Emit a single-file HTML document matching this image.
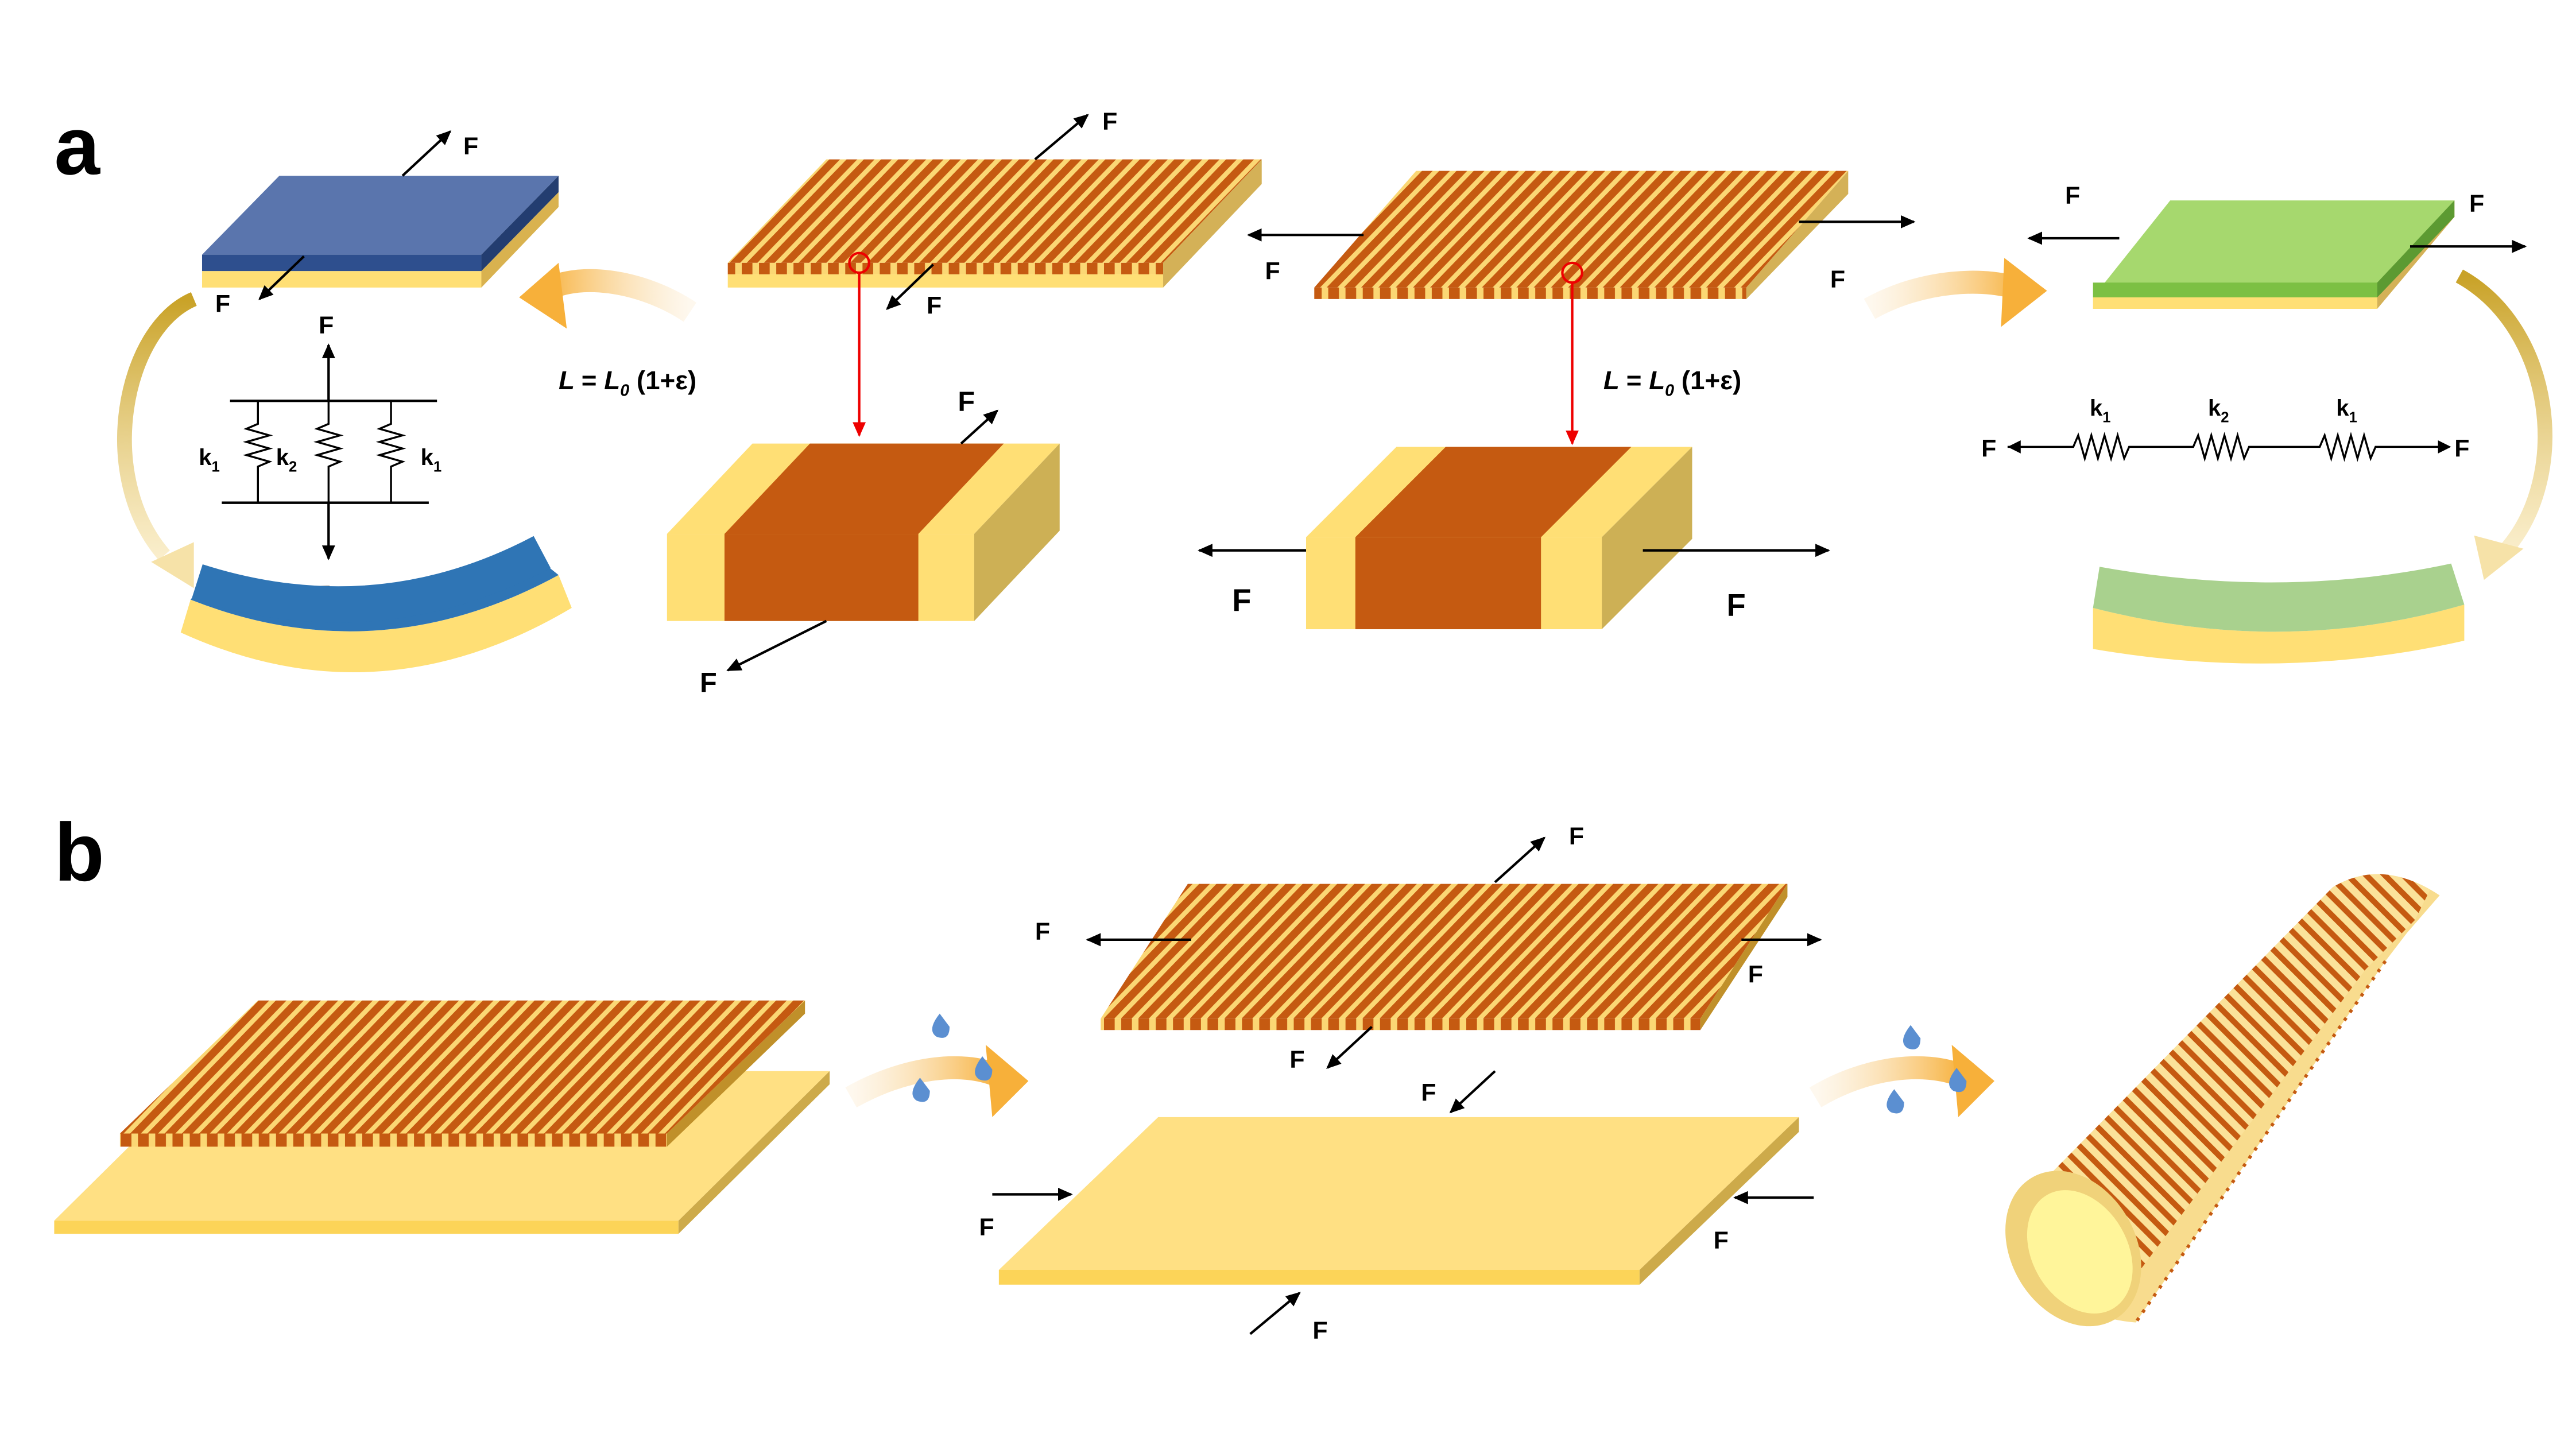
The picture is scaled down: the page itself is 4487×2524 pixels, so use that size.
<!DOCTYPE html>
<html><head><meta charset="utf-8">
<style>
html,body{margin:0;padding:0;background:#fff;}
svg{display:block;}
text{font-family:"Liberation Sans",Arial,sans-serif;font-weight:bold;fill:#000;}
</style></head>
<body>
<svg width="4487" height="2524" viewBox="0 0 1568 882" xmlns="http://www.w3.org/2000/svg">
<defs>
<marker id="ah" markerWidth="10" markerHeight="10" refX="8" refY="5" orient="auto" markerUnits="userSpaceOnUse">
<path d="M0,1 L9,5 L0,9 Z" fill="#000"/></marker>
<marker id="ahr" markerWidth="10" markerHeight="10" refX="8" refY="5" orient="auto" markerUnits="userSpaceOnUse">
<path d="M0,1 L9,5 L0,9 Z" fill="#e00"/></marker>
<pattern id="st" width="10.5" height="10" patternUnits="userSpaceOnUse" patternTransform="skewX(-44)">
<rect width="10.5" height="10" fill="#fbd774"/><rect width="6.5" height="10" fill="#c55a11"/></pattern>
<pattern id="stf" width="10.5" height="10" patternUnits="userSpaceOnUse">
<rect width="10.5" height="10" fill="#fbd774"/><rect width="6.5" height="10" fill="#c55a11"/></pattern>
<pattern id="ring" width="8" height="8" patternUnits="userSpaceOnUse" patternTransform="rotate(-45)">
<rect width="8" height="8" fill="#fbe29a"/><rect width="3.5" height="8" fill="#c55a11"/></pattern>
<linearGradient id="gl" x1="1" y1="0" x2="0" y2="0"><stop offset="0" stop-color="#fbe8c8" stop-opacity="0.3"/><stop offset="1" stop-color="#f7b03a"/></linearGradient>
<linearGradient id="gr" x1="0" y1="0" x2="1" y2="0"><stop offset="0" stop-color="#fbe8c8" stop-opacity="0.3"/><stop offset="1" stop-color="#f7b03a"/></linearGradient>
<linearGradient id="gd" x1="0" y1="0" x2="0" y2="1"><stop offset="0" stop-color="#c9a227"/><stop offset="1" stop-color="#f6e2a8" stop-opacity="0.6"/></linearGradient>
<clipPath id="tubeclip"><path d="M1228,735 L1420,540 Q1450,522 1485,545 L1465,568 L1452,585 L1300,805 Q1240,800 1228,735 Z"/></clipPath>
</defs>

<text x="33" y="106" font-size="50">a</text>
<text x="33" y="536" font-size="50">b</text>

<!-- blue plate -->
<polygon points="123,155 293,155 340,107 170,107" fill="#5a75ad"/>
<polygon points="123,155 293,155 293,165 123,165" fill="#2e4f8e"/>
<polygon points="293,155 340,107 340,117 293,165" fill="#233d70"/>
<polygon points="123,165 293,165 293,175 123,175" fill="#ffdf75"/>
<polygon points="293,165 340,117 340,126 293,175" fill="#d9b24f"/>
<line x1="245" y1="107" x2="274" y2="80" stroke="#000" stroke-width="1.5" marker-end="url(#ah)"/>
<text x="282" y="94" font-size="15">F</text>
<line x1="185" y1="156" x2="158" y2="182" stroke="#000" stroke-width="1.5" marker-end="url(#ah)"/>
<text x="131" y="190" font-size="15">F</text>

<!-- curved left arrows -->
<path d="M118,182 C75,200 58,290 100,338" fill="none" stroke="url(#gd)" stroke-width="9"/>
<polygon points="92,342 118,330 118,358" fill="#f6e2a8"/>
<path d="M420,190 C390,170 350,165 330,178" fill="none" stroke="url(#gl)" stroke-width="14"/>
<polygon points="316,181 340,160 345,200" fill="#f7b03a"/>

<!-- spring diagram left -->
<line x1="140" y1="244" x2="266" y2="244" stroke="#000" stroke-width="1.5"/>
<line x1="135" y1="306" x2="261" y2="306" stroke="#000" stroke-width="1.5"/>
<line x1="200" y1="244" x2="200" y2="210" stroke="#000" stroke-width="1.5" marker-end="url(#ah)"/>
<line x1="200" y1="306" x2="200" y2="340" stroke="#000" stroke-width="1.5" marker-end="url(#ah)"/>
<text x="194" y="203" font-size="15">F</text>
<text x="192" y="367" font-size="15">F</text>
<g fill="none" stroke="#000" stroke-width="1.2">
<path d="M157,244 V258 l-7,3 l14,4 l-14,4 l14,4 l-14,4 l14,4 l-7,3 V306"/>
<path d="M200,244 V258 l-7,3 l14,4 l-14,4 l14,4 l-14,4 l14,4 l-7,3 V306"/>
<path d="M238,244 V258 l-7,3 l14,4 l-14,4 l14,4 l-14,4 l14,4 l-7,3 V306"/>
</g>
<text x="121" y="283" font-size="14">k<tspan font-size="9" dy="4">1</tspan></text>
<text x="168" y="283" font-size="14">k<tspan font-size="9" dy="4">2</tspan></text>
<text x="256" y="283" font-size="14">k<tspan font-size="9" dy="4">1</tspan></text>

<!-- blue curved -->
<path d="M110,385 Q230,440 348,370 L340,350 Q230,410 116,365 Z" fill="#ffdf75"/>
<path d="M116,365 Q230,410 340,350 L330,342 Q230,395 120,360 Z" fill="#2f75b5"/>
<path d="M120,360 Q230,395 330,342" fill="none" stroke="#2f75b5" stroke-width="22" transform="translate(0,-6)"/>

<!-- striped plate 1 -->
<polygon points="443,160 708,160 768,97 503,97" fill="url(#st)"/>
<polygon points="443,160 708,160 708,167 443,167" fill="url(#stf)"/>
<polygon points="443,167 708,167 708,175 443,175" fill="#ffdf75"/>
<polygon points="708,160 768,97 768,112 708,175" fill="#d4b157"/>
<line x1="630" y1="97" x2="662" y2="70" stroke="#000" stroke-width="1.5" marker-end="url(#ah)"/>
<text x="671" y="79" font-size="15">F</text>
<line x1="568" y1="161" x2="540" y2="188" stroke="#000" stroke-width="1.5" marker-end="url(#ah)"/>
<text x="564" y="191" font-size="15">F</text>
<circle cx="523" cy="160" r="6" fill="none" stroke="#e00" stroke-width="1.5"/>
<line x1="523" y1="166" x2="523" y2="265" stroke="#e00" stroke-width="1.5" marker-end="url(#ahr)"/>
<text x="340" y="237" font-size="16" font-style="italic">L <tspan font-style="normal">=</tspan> L<tspan font-size="10" dy="4">0</tspan><tspan dy="-4" font-style="normal"> (1+ε)</tspan></text>

<!-- block 1 -->
<polygon points="406,325 593,325 645,270 458,270" fill="#ffdf75"/>
<polygon points="441,325 559,325 611,270 493,270" fill="#c55a11"/>
<rect x="406" y="325" width="187" height="53" fill="#ffdf75"/>
<rect x="441" y="325" width="118" height="53" fill="#c55a11"/>
<polygon points="593,325 645,270 645,323 593,378" fill="#cdb055"/>
<line x1="585" y1="270" x2="607" y2="250" stroke="#000" stroke-width="1.5" marker-end="url(#ah)"/>
<text x="583" y="250" font-size="17">F</text>
<line x1="503" y1="378" x2="443" y2="408" stroke="#000" stroke-width="1.5" marker-end="url(#ah)"/>
<text x="426" y="421" font-size="17">F</text>

<!-- striped plate 2 -->
<polygon points="800,175 1063,175 1125,104 862,104" fill="url(#st)"/>
<polygon points="800,175 1063,175 1063,182 800,182" fill="url(#stf)"/>
<polygon points="1063,175 1125,104 1125,118 1063,182" fill="#d4b157"/>
<line x1="830" y1="143" x2="760" y2="143" stroke="#000" stroke-width="1.5" marker-end="url(#ah)"/>
<text x="770" y="170" font-size="15">F</text>
<line x1="1095" y1="135" x2="1165" y2="135" stroke="#000" stroke-width="1.5" marker-end="url(#ah)"/>
<text x="1114" y="175" font-size="15">F</text>
<circle cx="957" cy="166" r="6" fill="none" stroke="#e00" stroke-width="1.5"/>
<line x1="957" y1="172" x2="957" y2="270" stroke="#e00" stroke-width="1.5" marker-end="url(#ahr)"/>
<text x="976" y="237" font-size="16" font-style="italic">L <tspan font-style="normal">=</tspan> L<tspan font-size="10" dy="4">0</tspan><tspan dy="-4" font-style="normal"> (1+ε)</tspan></text>

<!-- block 2 -->
<polygon points="795,327 975,327 1030,272 850,272" fill="#ffdf75"/>
<polygon points="825,327 938,327 993,272 880,272" fill="#c55a11"/>
<rect x="795" y="327" width="180" height="56" fill="#ffdf75"/>
<rect x="825" y="327" width="113" height="56" fill="#c55a11"/>
<polygon points="975,327 1030,272 1030,328 975,383" fill="#cdb055"/>
<line x1="795" y1="335" x2="730" y2="335" stroke="#000" stroke-width="1.5" marker-end="url(#ah)"/>
<text x="750" y="372" font-size="19">F</text>
<line x1="1000" y1="335" x2="1113" y2="335" stroke="#000" stroke-width="1.5" marker-end="url(#ah)"/>
<text x="1051" y="375" font-size="19">F</text>

<!-- right curved arrows -->
<path d="M1138,188 C1170,170 1210,168 1232,177" fill="none" stroke="url(#gr)" stroke-width="14"/>
<polygon points="1246,177 1220,157 1218,199" fill="#f7b03a"/>
<path d="M1497,168 C1555,200 1565,290 1525,335" fill="none" stroke="url(#gd)" stroke-width="9"/>
<polygon points="1512,353 1506,326 1536,334" fill="#f6e2a8"/>

<!-- green plate -->
<polygon points="1274,181 1447,181 1494,122 1321,122" fill="#a6d86e"/>
<polygon points="1274,172 1447,172 1447,181 1274,181" fill="#7cc043"/>
<polygon points="1274,181 1447,181 1447,188 1274,188" fill="#ffdf75"/>
<polygon points="1447,181 1494,122 1494,132 1447,188" fill="#d4b157"/>
<polygon points="1447,172 1494,122 1494,132 1447,181" fill="#5c9a32"/>
<line x1="1290" y1="145" x2="1235" y2="145" stroke="#000" stroke-width="1.5" marker-end="url(#ah)"/>
<text x="1257" y="124" font-size="15">F</text>
<line x1="1467" y1="150" x2="1537" y2="150" stroke="#000" stroke-width="1.5" marker-end="url(#ah)"/>
<text x="1503" y="129" font-size="15">F</text>

<!-- spring right -->
<g fill="none" stroke="#000" stroke-width="1.2">
<path d="M1222,272 H1262 l3,-7 l4,14 l4,-14 l4,14 l4,-14 l4,14 l4,-14 l4,14 l3,-7 H1335 l3,-7 l4,14 l4,-14 l4,14 l4,-14 l4,14 l4,-14 l4,14 l3,-7 H1412 l3,-7 l4,14 l4,-14 l4,14 l4,-14 l4,14 l4,-14 l4,14 l3,-7 H1488"/>
</g>
<polygon points="1222,272 1230,268 1230,276" fill="#000"/>
<polygon points="1492,272 1484,268 1484,276" fill="#000"/>
<text x="1206" y="278" font-size="15">F</text>
<text x="1494" y="278" font-size="15">F</text>
<text x="1272" y="253" font-size="14">k<tspan font-size="9" dy="4">1</tspan></text>
<text x="1344" y="253" font-size="14">k<tspan font-size="9" dy="4">2</tspan></text>
<text x="1422" y="253" font-size="14">k<tspan font-size="9" dy="4">1</tspan></text>

<!-- green curved -->
<path d="M1274,370 Q1390,400 1500,368 L1500,390 Q1390,415 1274,395 Z" fill="#ffdf75"/>
<path d="M1278,345 Q1390,365 1492,343 L1500,368 Q1390,400 1274,370 Z" fill="#a9d18e"/>

<!-- ===== b ===== -->
<polygon points="33,743 413,743 505,652 125,652" fill="#ffe083"/>
<polygon points="33,743 413,743 413,751 33,751" fill="#fcd458"/>
<polygon points="413,743 505,652 505,660 413,751" fill="#cdaa4a"/>
<polygon points="73,690 406,690 490,609 157,609" fill="url(#st)"/>
<polygon points="73,690 406,690 406,698 73,698" fill="url(#stf)"/>
<polygon points="406,690 490,609 490,617 406,698" fill="#c0902a"/>

<!-- water arrows -->
<path d="M518,668 C550,650 585,645 608,655" fill="none" stroke="url(#gr)" stroke-width="14"/>
<polygon points="626,658 600,636 604,680" fill="#f7b03a"/>
<path d="M1105,668 C1135,650 1170,645 1195,655" fill="none" stroke="url(#gr)" stroke-width="14"/>
<polygon points="1214,658 1188,636 1192,680" fill="#f7b03a"/>
<g fill="#5b8fd1">
<path d="M572,617 q-8,10 -2,14 q8,3 8,-6 z"/>
<path d="M598,643 q-8,10 -2,14 q8,3 8,-6 z"/>
<path d="M560,656 q-8,10 -2,14 q8,3 8,-6 z"/>
<path d="M1163,624 q-8,10 -2,14 q8,3 8,-6 z"/>
<path d="M1191,650 q-8,10 -2,14 q8,3 8,-6 z"/>
<path d="M1153,663 q-8,10 -2,14 q8,3 8,-6 z"/>
</g>

<!-- middle striped plate -->
<polygon points="670,620 1035,620 1088,538 723,538" fill="url(#st)"/>
<polygon points="670,620 1035,620 1035,627 670,627" fill="url(#stf)"/>
<polygon points="1035,620 1088,538 1088,546 1035,627" fill="#c0902a"/>
<line x1="725" y1="572" x2="662" y2="572" stroke="#000" stroke-width="1.5" marker-end="url(#ah)"/>
<text x="630" y="572" font-size="15">F</text>
<line x1="910" y1="537" x2="940" y2="510" stroke="#000" stroke-width="1.5" marker-end="url(#ah)"/>
<text x="955" y="514" font-size="15">F</text>
<line x1="1060" y1="572" x2="1108" y2="572" stroke="#000" stroke-width="1.5" marker-end="url(#ah)"/>
<text x="1064" y="598" font-size="15">F</text>
<line x1="835" y1="625" x2="808" y2="650" stroke="#000" stroke-width="1.5" marker-end="url(#ah)"/>
<text x="785" y="650" font-size="15">F</text>

<!-- middle yellow plate -->
<polygon points="608,773 998,773 1095,680 705,680" fill="#ffe083"/>
<polygon points="608,773 998,773 998,782 608,782" fill="#fcd458"/>
<polygon points="998,773 1095,680 1095,689 998,782" fill="#cdaa4a"/>
<line x1="910" y1="652" x2="883" y2="677" stroke="#000" stroke-width="1.5" marker-end="url(#ah)"/>
<text x="865" y="670" font-size="15">F</text>
<line x1="604" y1="727" x2="652" y2="727" stroke="#000" stroke-width="1.5" marker-end="url(#ah)"/>
<text x="596" y="752" font-size="15">F</text>
<line x1="1104" y1="729" x2="1056" y2="729" stroke="#000" stroke-width="1.5" marker-end="url(#ah)"/>
<text x="1043" y="760" font-size="15">F</text>
<line x1="761" y1="812" x2="791" y2="787" stroke="#000" stroke-width="1.5" marker-end="url(#ah)"/>
<text x="799" y="815" font-size="15">F</text>

<!-- tube -->
<path d="M1228,735 L1420,540 Q1450,522 1485,545 L1465,568 L1452,585 L1300,805 Q1240,800 1228,735 Z" fill="#f8dc8e"/>
<g clip-path="url(#tubeclip)">
<polygon points="1200,700 1420,480 1500,500 1470,560 1440,590 1290,790 1240,800" fill="url(#ring)"/>
<polygon points="1455,582 1300,805 1380,820 1520,600" fill="#f5d886"/>
</g>
<path d="M1452,585 L1300,805" stroke="#c55a11" stroke-width="2" stroke-dasharray="2,4"/>
<ellipse cx="1262" cy="760" rx="38" ry="50" transform="rotate(-30 1262 760)" fill="#f0d27a"/>
<ellipse cx="1266" cy="762" rx="29" ry="40" transform="rotate(-30 1266 762)" fill="#fff59a"/>
</svg>
</body></html>
